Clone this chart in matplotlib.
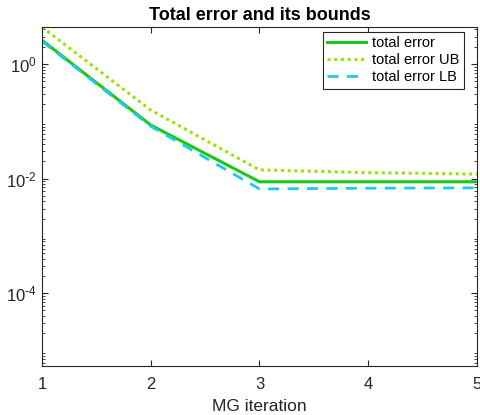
import numpy as np
import matplotlib
matplotlib.use("Agg")
import matplotlib.pyplot as plt
from matplotlib.ticker import LogLocator, NullFormatter, FixedFormatter

plt.rcParams['font.family'] = ['Liberation Sans', 'DejaVu Sans']
plt.rcParams['mathtext.default'] = 'regular'
plt.rcParams['axes.unicode_minus'] = False

iters = [1, 2, 3, 4, 5]
total_err = [2.6, 0.086, 0.0088, 0.0088, 0.0088]
total_ub = [4.4, 0.157, 0.0142, 0.0127, 0.0120]
total_lb = [2.5, 0.082, 0.0066, 0.0068, 0.0069]
ytick_vals = [1e-4, 1e-2, 1e0]
ytick_labels = [r'$10^{\text{-}4}$', r'$10^{\text{-}2}$', '$10^{0}$']

fig = plt.figure(figsize=(4.81, 4.15), dpi=100)
ax = fig.add_axes([0.0873, 0.118, 0.9044, 0.817])

ax.plot(iters, total_err, color='#19c819', lw=2.2, label='total error')
ax.plot(iters, total_ub, color='#96e600', lw=2.2, ls=(0, (1, 1.2)), label='total error UB')
ax.plot(iters, total_lb, color='#20c8ea', lw=2.0, ls=(0, (4, 3)), label='total error LB')

ax.set_yscale('log')
ax.set_xlim(1, 5)
ax.set_ylim(10 ** -5.27, 10 ** 0.646)
ax.set_xticks(iters)
ax.set_yticks(ytick_vals)
ax.yaxis.set_major_formatter(FixedFormatter(ytick_labels))
ax.yaxis.set_minor_locator(LogLocator(base=10, subs=np.arange(2, 10), numticks=20))
ax.yaxis.set_minor_formatter(NullFormatter())
ax.tick_params(which='both', direction='in', top=True, right=True, labelsize=12, colors='#262626')
ax.tick_params(which='major', length=4)
ax.tick_params(which='minor', length=2)
ax.tick_params(axis='x', pad=8)
for s in ax.spines.values():
    s.set_color('#262626')
    s.set_linewidth(0.8)

ax.set_xlabel('MG iteration', fontsize=12.5, color='#262626', labelpad=5)
ax.set_title('Total error and its bounds', fontsize=13, fontweight='bold', pad=5)

leg = ax.legend(loc='upper right', bbox_to_anchor=(0.970, 0.985), fontsize=10.5,
                fancybox=False, edgecolor='#262626', framealpha=1, handlelength=2.7,
                borderaxespad=0, labelspacing=0.2, borderpad=0.3, handletextpad=0.4)
leg.get_frame().set_linewidth(0.8)

fig.savefig('out.png', dpi=100)
